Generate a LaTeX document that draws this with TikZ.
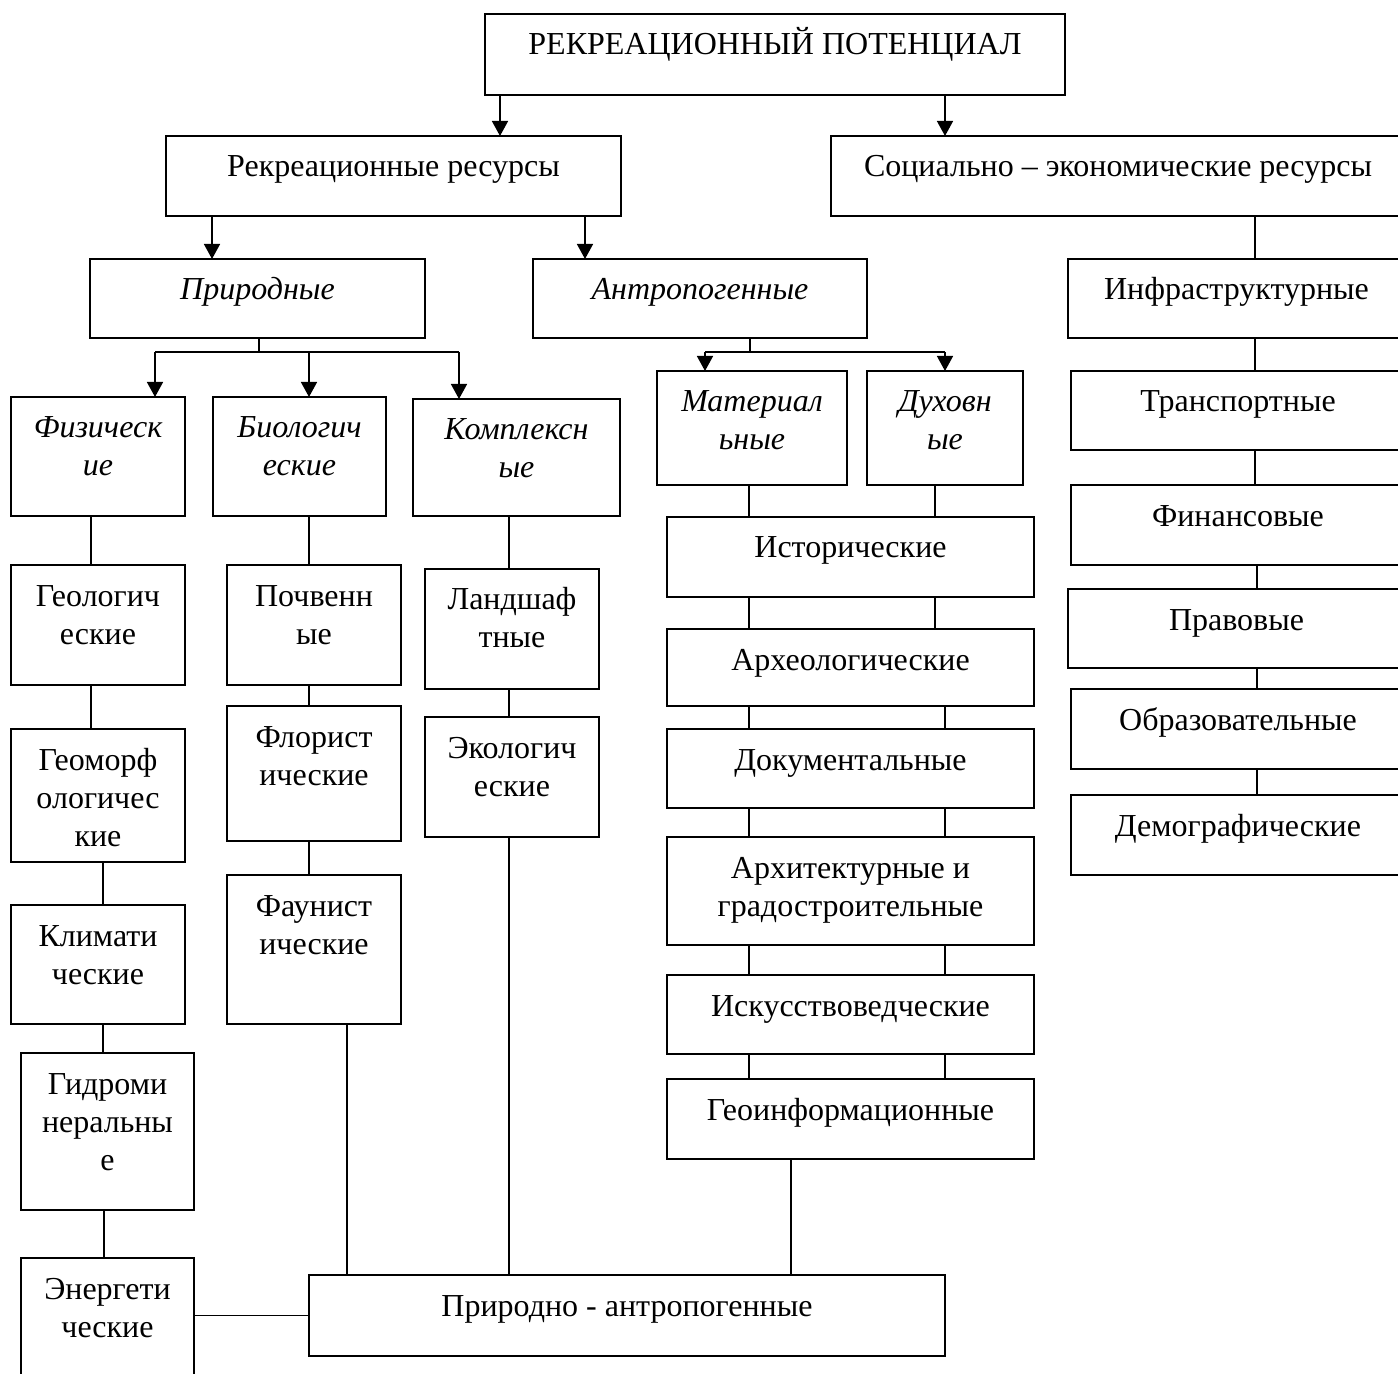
\documentclass[tikz,border=0pt]{standalone}
\usepackage{fontspec}
\setmainfont{Liberation Serif}
\usetikzlibrary{arrows.meta}
\newcommand{\drawbox}[7][]{%
  \node[bxs,#1,anchor=north west] (#2) at (#3,#4)
  {\parbox[t][\dimexpr 0.5pt*\numexpr#6-#4\relax\relax][t]{\dimexpr 0.5pt*\numexpr#5-#3\relax\relax}{\centering\rule{0pt}{20.5pt}#7\par}};}
\begin{document}
\begin{tikzpicture}[x=0.5pt,y=-0.5pt,
  bxs/.style={draw,line width=1pt,inner sep=0pt,outer sep=0pt,rectangle},
  it/.style={font=\fontsize{16}{19}\selectfont\itshape},
  con/.style={line width=0.75pt},
  arr/.style={line width=0.75pt,-{Triangle[length=7.5pt,width=8pt]}},
  font=\fontsize{16}{19}\selectfont]
\path[use as bounding box, clip] (0,0) rectangle (1398,1374);
% boxes
\drawbox{top}{485}{14}{1065}{95}{РЕКРЕАЦИОННЫЙ ПОТЕНЦИАЛ}
\drawbox{rr}{166}{136}{621}{216}{Рекреационные ресурсы}
\drawbox{se}{831}{136}{1405}{216}{Социально – экономические ресурсы}
\drawbox[it]{pr}{90}{259}{425}{338}{Природные}
\drawbox[it]{an}{533}{259}{867}{338}{Антропогенные}
\drawbox{inf}{1068}{259}{1405}{338}{Инфраструктурные}
\drawbox[it]{fiz}{11}{397}{185}{516}{Физическ\\ие}
\drawbox[it]{bio}{213}{397}{386}{516}{Биологич\\еские}
\drawbox[it]{kom}{413}{399}{620}{516}{Комплексн\\ые}
\drawbox[it]{mat}{657}{371}{847}{485}{Материал\\ьные}
\drawbox[it]{duh}{867}{371}{1023}{485}{Духовн\\ые}
\drawbox{ist}{667}{517}{1034}{597}{Исторические}
\drawbox{arh}{667}{629}{1034}{706}{Археологические}
\drawbox{dok}{667}{729}{1034}{808}{Документальные}
\drawbox{arc}{667}{837}{1034}{945}{Архитектурные и\\градостроительные}
\drawbox{isk}{667}{975}{1034}{1054}{Искусствоведческие}
\drawbox{geo}{667}{1079}{1034}{1159}{Геоинформационные}
\drawbox{na}{309}{1275}{945}{1356}{Природно - антропогенные}
\drawbox{tr}{1071}{371}{1405}{450}{Транспортные}
\drawbox{fin}{1071}{485}{1405}{565}{Финансовые}
\drawbox{prav}{1068}{589}{1405}{668}{Правовые}
\drawbox{obr}{1071}{689}{1405}{769}{Образовательные}
\drawbox{dem}{1071}{795}{1405}{875}{Демографические}
\drawbox{gl}{11}{565}{185}{685}{Геологич\\еские}
\drawbox{gm}{11}{729}{185}{862}{Геоморф\\ологичес\\кие}
\drawbox{kl}{11}{905}{185}{1024}{Климати\\ческие}
\drawbox{gid}{21}{1053}{194}{1210}{Гидроми\\неральны\\е}
\drawbox{en}{21}{1258}{194}{1395}{Энергети\\ческие}
\drawbox{poc}{227}{565}{401}{685}{Почвенн\\ые}
\drawbox{flo}{227}{706}{401}{841}{Флорист\\ические}
\drawbox{fau}{227}{875}{401}{1024}{Фаунист\\ические}
\drawbox{lan}{425}{569}{599}{689}{Ландшаф\\тные}
\drawbox{eko}{425}{717}{599}{837}{Экологич\\еские}
% helper coordinates
\foreach \xx in {91,103,104,155,212,259,309,347,459,500,509,585,705,749,750,791,935,945,1255,1257}
  \coordinate (v\xx) at (\xx,0);
\coordinate (jpr) at (259,352);
\coordinate (jan) at (750,352);
% arrows from top
\draw[arr] (top.south -| v500) -- (rr.north -| v500);
\draw[arr] (top.south -| v945) -- (se.north -| v945);
\draw[arr] (rr.south -| v212) -- (pr.north -| v212);
\draw[arr] (rr.south -| v585) -- (an.north -| v585);
\draw[con] (se.south -| v1255) -- (inf.north -| v1255);
% Природные branch
\draw[con] (pr.south -| jpr) -- (jpr);
\draw[con] (jpr -| v155) -- (jpr -| v459);
\draw[arr] (jpr -| v155) -- (fiz.north -| v155);
\draw[arr] (jpr -| v309) -- (bio.north -| v309);
\draw[arr] (jpr -| v459) -- (kom.north -| v459);
% Антропогенные branch
\draw[con] (an.south -| jan) -- (jan);
\draw[con] (jan -| v705) -- (jan -| v945);
\draw[arr] (jan -| v705) -- (mat.north -| v705);
\draw[arr] (jan -| v945) -- (duh.north -| v945);
% material / spiritual chain
\draw[con] (mat.south -| v749) -- (ist.north -| v749);
\draw[con] (duh.south -| v935) -- (ist.north -| v935);
\draw[con] (ist.south -| v749) -- (arh.north -| v749);
\draw[con] (ist.south -| v935) -- (arh.north -| v935);
\draw[con] (arh.south -| v749) -- (dok.north -| v749);
\draw[con] (arh.south -| v945) -- (dok.north -| v945);
\draw[con] (dok.south -| v749) -- (arc.north -| v749);
\draw[con] (dok.south -| v945) -- (arc.north -| v945);
\draw[con] (arc.south -| v749) -- (isk.north -| v749);
\draw[con] (arc.south -| v945) -- (isk.north -| v945);
\draw[con] (isk.south -| v749) -- (geo.north -| v749);
\draw[con] (isk.south -| v945) -- (geo.north -| v945);
\draw[con] (geo.south -| v791) -- (na.north -| v791);
% right column
\draw[con] (inf.south -| v1255) -- (tr.north -| v1255);
\draw[con] (tr.south -| v1255) -- (fin.north -| v1255);
\draw[con] (fin.south -| v1257) -- (prav.north -| v1257);
\draw[con] (prav.south -| v1257) -- (obr.north -| v1257);
\draw[con] (obr.south -| v1257) -- (dem.north -| v1257);
% physical column
\draw[con] (fiz.south -| v91) -- (gl.north -| v91);
\draw[con] (gl.south -| v91) -- (gm.north -| v91);
\draw[con] (gm.south -| v103) -- (kl.north -| v103);
\draw[con] (kl.south -| v103) -- (gid.north -| v103);
\draw[con] (gid.south -| v104) -- (en.north -| v104);
\draw[con] (en.east |- na.west) -- (na.west);
% biological column
\draw[con] (bio.south -| v309) -- (poc.north -| v309);
\draw[con] (poc.south -| v309) -- (flo.north -| v309);
\draw[con] (flo.south -| v309) -- (fau.north -| v309);
\draw[con] (fau.south -| v347) -- (na.north -| v347);
% complex column
\draw[con] (kom.south -| v509) -- (lan.north -| v509);
\draw[con] (lan.south -| v509) -- (eko.north -| v509);
\draw[con] (eko.south -| v509) -- (na.north -| v509);
\end{tikzpicture}
\end{document}
